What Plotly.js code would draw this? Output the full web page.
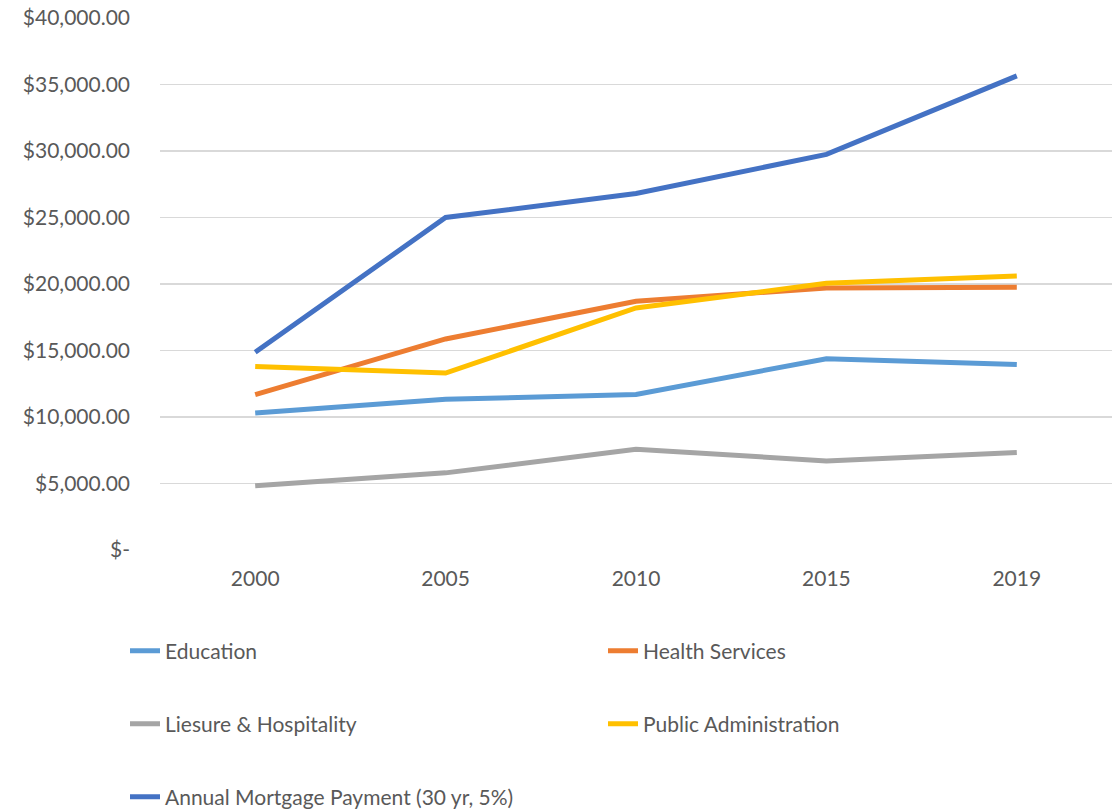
<!DOCTYPE html>
<html>
<head>
<meta charset="utf-8">
<script src="https://cdn.plot.ly/plotly-3.0.1.min.js"></script>
<style>html,body{margin:0;padding:0;background:#fff;}#chart{width:1120px;height:810px;}</style>
</head>
<body>
<div id="chart"></div>
<script>
const years = ["2000", "2005", "2010", "2015", "2019"];
const education = [10300, 11330, 11700, 14380, 13950];
const healthServices = [11680, 15870, 18700, 19700, 19750];
const leisureHospitality = [4830, 5800, 7570, 6700, 7330];
const publicAdministration = [13800, 13300, 18200, 20050, 20600];
const mortgagePayment = [14870, 25000, 26800, 29750, 35650];
const yTickValues = [0, 5000, 10000, 15000, 20000, 25000, 30000, 35000, 40000];
const yTickLabels = ["$-", "$5,000.00", "$10,000.00", "$15,000.00", "$20,000.00", "$25,000.00", "$30,000.00", "$35,000.00", "$40,000.00"];

const FONT = "Lato, 'Open Sans', sans-serif";
const TXT = "#595959";
function tr(name, y, color, legend) {
  return {type: "scatter", mode: "lines", name: name, x: years, y: y,
    line: {color: color, width: 5}, legend: legend};
}
const data = [
  tr("Education", education, "#5B9BD5", "legend"),
  tr("Health Services", healthServices, "#ED7D31", "legend2"),
  tr("Liesure & Hospitality", leisureHospitality, "#A5A5A5", "legend3"),
  tr("Public Administration", publicAdministration, "#FFC000", "legend4"),
  tr("Annual Mortgage Payment (30 yr, 5%)", mortgagePayment, "#4472C4", "legend5")
];
function leg(xPix, yPix) {
  return {orientation: "h", xref: "container", yref: "container",
    x: xPix / 1120, xanchor: "left", y: 1 - yPix / 810, yanchor: "middle",
    font: {family: FONT, size: 21, color: TXT}, bgcolor: "rgba(0,0,0,0)"};
}
const layout = {
  width: 1120, height: 810,
  margin: {l: 160, r: 8, t: 18, b: 260},
  paper_bgcolor: "#fff", plot_bgcolor: "#fff",
  font: {family: FONT, color: TXT, size: 21},
  showlegend: true,
  xaxis: {type: "category", range: [-0.5, 4.5], showgrid: false, zeroline: false,
    showline: false, ticks: "", ticklabelstandoff: 14,
    tickfont: {family: FONT, size: 21, color: TXT}},
  yaxis: {range: [0, 40000], tickvals: yTickValues, ticktext: yTickLabels,
    showgrid: true, gridcolor: "#d9d9d9", gridwidth: 1.3, zeroline: false,
    showline: false, ticks: "", ticklabelstandoff: 29,
    tickfont: {family: FONT, size: 21, color: TXT}},
  legend: leg(125, 651), legend2: leg(603, 651),
  legend3: leg(125, 724), legend4: leg(603, 724),
  legend5: leg(125, 797)
};
Plotly.newPlot("chart", data, layout, {displayModeBar: false, staticPlot: true});
</script>
</body>
</html>
